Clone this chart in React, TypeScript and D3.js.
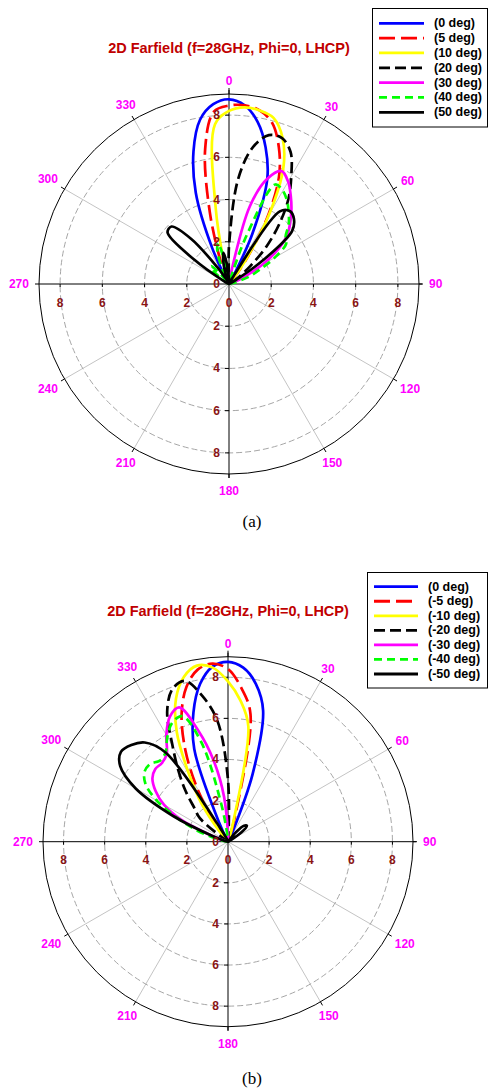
import * as d3 from 'd3';
import React from 'react';

// angle grid (deg, clockwise from 0 at top) shared by every curve
const thetaDeg = [-80, -75, -70, -65, -60, -55, -50, -45, -40, -35, -30, -25, -20, -15, -10, -5, 0, 5, 10, 15, 20, 25, 30, 35, 40, 45, 50, 55, 60, 65, 70, 75, 80];

const angleTicks = [0, 30, 60, 90, 120, 150, 180, 210, 240, 270, 300, 330];
const radialTicks = [2, 4, 6, 8];

const legendA = ['(0 deg)', '(5 deg)', '(10 deg)', '(20 deg)', '(30 deg)', '(40 deg)', '(50 deg)'];
const legendB = ['(0 deg)', '(-5 deg)', '(-10 deg)', '(-20 deg)', '(-30 deg)', '(-40 deg)', '(-50 deg)'];

// chart (a): steering 0..50 deg
const a0 = [0, 0, 0, 0, 0, 0, 0, 0, 0, 0.1, 0.3, 1.9, 4.6, 6.5, 7.9, 8.55, 8.75, 8.5, 7.8, 6.7, 5.3, 2.6, 0.3, 0.1, 0, 0, 0, 0, 0, 0, 0, 0, 0];
const a5 = [0, 0, 0, 0, 0, 0, 0, 0, 0, 0, 0.1, 0.3, 1.2, 3.5, 6.5, 8.2, 8.45, 8.5, 8.35, 7.9, 6.9, 5.6, 3.6, 1.4, 0.2, 0, 0, 0, 0, 0, 0, 0, 0];
const a10 = [0, 0, 0, 0, 0, 0, 0, 0, 0, 0, 0, 0, 0, 0.4, 3.6, 7.6, 8.2, 8.4, 8.35, 8.15, 7.4, 6.1, 3.8, 1.3, 0.2, 0, 0, 0, 0, 0, 0, 0, 0];
const a20 = [0, 0, 0, 0, 0, 0, 0, 0, 0, 0, 0, 0, 0, 0.5, 1.2, 0.3, 1.8, 5.0, 6.6, 7.3, 7.35, 6.9, 5.9, 4.9, 3.7, 2.5, 1.3, 0.5, 0.1, 0, 0, 0, 0];
const a30 = [0, 0, 0, 0, 0, 0, 0, 0, 0, 0, 0, 0, 0, 0, 0, 0, 0, 0.1, 0.5, 3.8, 5.3, 5.9, 5.6, 5.1, 4.6, 4.1, 3.6, 2.8, 1.8, 0.8, 0.3, 0.1, 0];
const a40 = [0, 0, 0, 0, 0, 0.4, 1.0, 1.2, 0.5, 0.2, 0.2, 0.6, 1.6, 2.0, 1.0, 0.3, 0.1, 0.1, 0.1, 0.3, 2.5, 5.2, 5.1, 4.8, 4.4, 4.0, 3.5, 3.3, 2.5, 1.6, 1.0, 0.3, 0];
const a50 = [0, 0, 0, 0, 0.3, 2.0, 3.8, 3.85, 2.8, 1.0, 0.3, 0.2, 0.4, 1.0, 1.5, 0.8, 0.2, 0.1, 0.1, 0.1, 0.1, 0.1, 0.4, 4.2, 4.5, 4.35, 3.9, 2.0, 0.3, 0, 0, 0, 0];

// chart (b): steering 0..-50 deg
const b0 = [0, 0, 0, 0, 0, 0, 0, 0, 0, 0, 0.1, 1.0, 4.8, 6.5, 7.8, 8.55, 8.75, 8.5, 7.8, 6.6, 3.5, 0.5, 0.1, 0, 0, 0, 0, 0, 0, 0, 0, 0, 0];
const b5 = [0, 0, 0, 0, 0, 0, 0, 0, 0.2, 1.3, 3.0, 4.9, 6.6, 7.8, 8.5, 8.7, 8.4, 7.5, 6.3, 1.5, 0.2, 0, 0, 0, 0, 0, 0, 0, 0, 0, 0, 0, 0];
const b10 = [0, 0, 0, 0, 0, 0, 0, 0.1, 0.6, 2.2, 3.8, 5.9, 7.4, 8.3, 8.7, 8.5, 7.8, 6.9, 5.7, 1.0, 0.2, 0, 0, 0, 0, 0, 0, 0, 0, 0, 0, 0, 0];
const b20 = [0, 0, 0, 0, 0, 0.3, 1.8, 2.3, 3.2, 4.2, 5.4, 7.0, 7.9, 8.1, 7.2, 5.9, 3.0, 0.2, 0, 0, 0, 0, 0, 0, 0, 0, 0, 0, 0, 0, 0, 0, 0];
const b30 = [0, 0.2, 0.8, 2.5, 3.6, 4.3, 4.8, 5.0, 5.0, 5.2, 6.0, 6.7, 6.95, 5.6, 4.0, 2.2, 0.4, 0.1, 0, 0, 0, 0, 0, 0, 0, 0, 0, 0, 0, 0, 0, 0, 0];
const b40 = [0.1, 0.6, 1.6, 2.7, 4.0, 4.9, 5.3, 5.35, 5.15, 5.3, 5.9, 6.4, 6.5, 5.0, 1.8, 0.3, 0, 0, 0, 0, 0, 0, 0, 0, 0, 0, 0, 0, 0, 0, 0, 0, 0];
const b50 = [0, 0.2, 0.8, 2.9, 5.2, 6.4, 6.8, 6.65, 6.3, 5.3, 0.8, 0.2, 0, 0, 0, 0, 0, 0, 0, 0, 0, 0, 0, 0, 0.6, 1.1, 1.2, 0.8, 0.2, 0, 0, 0, 0];

const colors = ['#0000ff', '#ff0000', '#ffff00', '#000000', '#ff00ff', '#00ff00', '#000000'];
const dashes = [null, '16 6', null, '11 5', null, '8 5', null];

const FONT = 'Liberation Sans, Arial, sans-serif';
const rad = (deg: number) => (deg * Math.PI) / 180;

type ChartProps = {
  cx: number;
  cy: number;
  R: number;
  titleY: number;
  data: number[][];
  labels: string[];
  legendBox: { x: number; y: number; w: number; h: number; lx0: number; lx1: number; tx: number; ty0: number; dy: number };
  hLabelDy: number;
  caption: string;
  captionY: number;
};

const PolarChart = ({ cx, cy, R, titleY, data, labels, legendBox, hLabelDy, caption, captionY }: ChartProps) => {
  const r = d3.scaleLinear().domain([0, 9]).range([0, R]);

  const line = d3.lineRadial<number>()
    .angle((_, i) => rad(thetaDeg[i]))
    .radius(d => r(d))
    .curve(d3.curveCatmullRomClosed.alpha(0.5));

  return (
    <g>
      <text x={cx} y={titleY} textAnchor="middle" dominantBaseline="central"
        fontFamily={FONT} fontWeight="bold" fontSize={14.5} fill="#c00000">
        2D Farfield (f=28GHz, Phi=0, LHCP)
      </text>

      {/* grid */}
      <g transform={`translate(${cx},${cy})`}>
        {angleTicks.filter(a => a % 90 !== 0).map(a => (
          <line key={a} x1={0} y1={0} x2={R * Math.sin(rad(a))} y2={-R * Math.cos(rad(a))}
            stroke="#c4c4c4" strokeWidth={1} />
        ))}
        {radialTicks.map(v => (
          <circle key={v} r={r(v)} fill="none" stroke="#a6a6a6" strokeWidth={1} strokeDasharray="6 3" />
        ))}
        <circle r={R} fill="none" stroke="#000" strokeWidth={1} />
        {angleTicks.map(a => (
          <line key={'t' + a} x1={R * Math.sin(rad(a))} y1={-R * Math.cos(rad(a))}
            x2={(R + 4) * Math.sin(rad(a))} y2={-(R + 4) * Math.cos(rad(a))} stroke="#000" strokeWidth={1} />
        ))}
        <line x1={-R} y1={0} x2={R + 3} y2={0} stroke="#000" strokeWidth={1} />
        <line x1={0} y1={-(R + 6)} x2={0} y2={R + 4} stroke="#000" strokeWidth={1} />
        {radialTicks.map(v => (
          <g key={'vt' + v}>
            <line x1={-4} y1={-r(v)} x2={0} y2={-r(v)} stroke="#000" />
            <line x1={-4} y1={r(v)} x2={0} y2={r(v)} stroke="#000" />
            <line x1={-r(v)} y1={0} x2={-r(v)} y2={3} stroke="#000" />
            <line x1={r(v)} y1={0} x2={r(v)} y2={3} stroke="#000" />
          </g>
        ))}
      </g>

      {/* curves */}
      <g transform={`translate(${cx},${cy})`}>
        {data.map((vals, i) => (
          <path key={i} d={line(vals) ?? ''} fill="none" stroke={colors[i]} strokeWidth={2.7}
            strokeDasharray={dashes[i] ?? undefined} strokeLinejoin="round" />
        ))}
      </g>

      {/* radial labels */}
      <g fontFamily={FONT} fontWeight="bold" fontSize={12} fill="#8a1414">
        {[0, ...radialTicks].map(v => (
          <text key={'u' + v} x={cx - 9} y={cy - r(v)} textAnchor="end" dominantBaseline="central">{v}</text>
        ))}
        {radialTicks.map(v => (
          <text key={'d' + v} x={cx - 9} y={cy + r(v)} textAnchor="end" dominantBaseline="central">{v}</text>
        ))}
        {[-8, -6, -4, -2, 0, 2, 4, 6, 8].map(v => (
          <text key={'h' + v} x={cx + r(Math.abs(v)) * Math.sign(v)} y={cy + hLabelDy}
            textAnchor="middle" dominantBaseline="central">{Math.abs(v)}</text>
        ))}
      </g>

      {/* angle labels */}
      <g fontFamily={FONT} fontWeight="bold" fontSize={12} fill="#ff00ff">
        {angleTicks.map(a => {
          const s = String(a);
          const halfW = s.length * 3.35;
          const d = R + 13 + Math.abs(Math.sin(rad(a))) * (halfW - 3) + (a === 180 ? 4 : 0);
          return (
            <text key={a} x={cx + d * Math.sin(rad(a))} y={cy - d * Math.cos(rad(a))}
              textAnchor="middle" dominantBaseline="central">{s}</text>
          );
        })}
      </g>

      {/* legend */}
      <rect x={legendBox.x} y={legendBox.y} width={legendBox.w} height={legendBox.h}
        fill="#fff" stroke="#000" strokeWidth={1} />
      {labels.map((lab, i) => {
        const y = legendBox.ty0 + i * legendBox.dy;
        return (
          <g key={lab}>
            <line x1={legendBox.lx0} x2={legendBox.lx1} y1={y} y2={y} stroke={colors[i]}
              strokeWidth={2.8} strokeDasharray={dashes[i] ?? undefined} />
            <text x={legendBox.tx} y={y} dominantBaseline="central" fontFamily={FONT}
              fontWeight="bold" fontSize={12.5} fill="#000">{lab}</text>
          </g>
        );
      })}

      <text x={252} y={captionY} textAnchor="middle" dominantBaseline="central"
        fontFamily="Liberation Serif, Times New Roman, serif" fontSize={17} fill="#000">{caption}</text>
    </g>
  );
};

export default function App() {
  return (
    <svg width={488} height={1091} style={{ position: 'absolute', left: 0, top: 0, background: '#fff' }}>
      <PolarChart cx={229} cy={284} R={190} titleY={48}
        data={[a0, a5, a10, a20, a30, a40, a50]} labels={legendA}
        legendBox={{ x: 372.5, y: 8.5, w: 115, h: 118.5, lx0: 379, lx1: 424, tx: 434, ty0: 23.3, dy: 14.83 }}
        hLabelDy={19} caption="(a)" captionY={521} />
      <PolarChart cx={228} cy={841.7} R={185} titleY={611}
        data={[b0, b5, b10, b20, b30, b40, b50]} labels={legendB}
        legendBox={{ x: 367.5, y: 572.5, w: 120, h: 115.5, lx0: 374, lx1: 418, tx: 428, ty0: 586.7, dy: 14.55 }}
        hLabelDy={18} caption="(b)" captionY={1078} />
    </svg>
  );
}
